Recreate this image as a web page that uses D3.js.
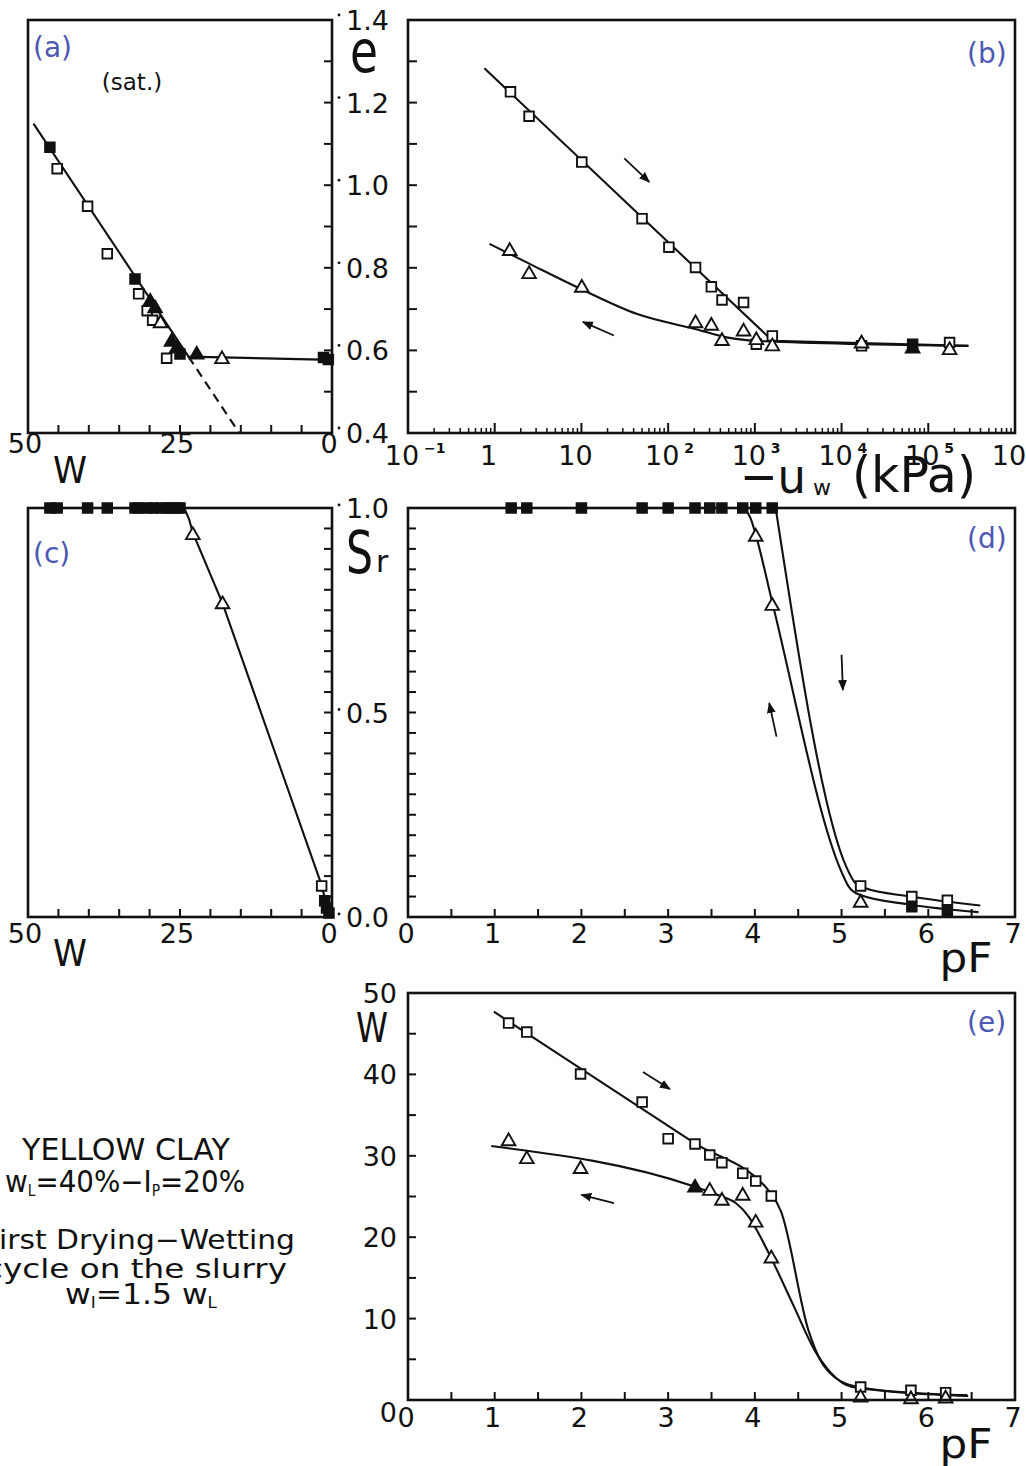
<!DOCTYPE html>
<html><head><meta charset="utf-8">
<script src="https://cdn.jsdelivr.net/npm/d3@7"></script>
<style>body{margin:0;background:#fff}svg{display:block}text{font-family:"DejaVu Sans",sans-serif;fill:#111}</style>
</head><body><svg id="c" width="1026" height="1466"></svg>
<script>
// ---------- DATA ----------
// (a) void ratio e vs water content w
const aSqOpen   = [[45.2,1.04],[40.2,0.949],[36.96,0.834],[31.8,0.737],[30.4,0.696],[29.5,0.673],[27.2,0.581]];
const aSqFilled = [[46.4,1.092],[32.4,0.773],[25.0,0.591],[1.4,0.583],[0.6,0.578]];
const aTriFilled= [[29.9,0.72],[29.1,0.704],[26.4,0.623],[25.55,0.607],[22.25,0.592]];
const aTriOpen  = [[28.2,0.668],[18.1,0.581]];
const aLine     = [[49.1,1.149],[23.6,0.585],[0,0.577]];
const aDash     = [[23.6,0.585],[15.25,0.4]];
// (b) e vs -uw (kPa)
const bSqOpen   = [[1.52,1.226],[2.49,1.167],[10.1,1.056],[50,0.919],[102,0.850],[207,0.801],[315,0.754],[418,0.722],[741,0.716],[1040,0.615],[1590,0.635],[17000,0.611],[176000,0.619]];
const bSqFilled = [[66000,0.615]];
const bTriOpen  = [[1.49,0.843],[2.49,0.787],[10.1,0.754],[207,0.668],[315,0.662],[418,0.625],[741,0.648],[1040,0.627],[1590,0.612],[17000,0.619],[176000,0.603]];
const bTriFilled= [[66000,0.607]];
const bDry      = [[0.76,1.283],[1600,0.623],[290000,0.611]];
const bWet      = [[0.87,0.858],[2.5,0.81],[10,0.748],[44,0.688],[204,0.652],[490,0.631],[1260,0.622],[290000,0.611]];
const bArrows   = [[[31.2,1.065],[60.5,1.008]],[[23.7,0.636],[10.4,0.669]]];
const bTickExp  = [-1,0,1,2,3,4,5,6];
// (c) Sr vs w
const cSqFilled = [[46.4,1],[45.2,1],[40.2,1],[36.96,1],[32.4,1],[31.8,1],[30.4,1],[29.5,1],[28.2,1],[27.2,1],[26.4,1],[25.5,1],[25.0,1],[1.2,0.04],[0.9,0.022],[0.5,0.01]];
const cTriOpen  = [[22.9,0.936],[18.0,0.767]];
const cSqOpen   = [[1.7,0.076]];
const cLine     = [[24.7,1.0],[24.1,0.993],[23.5,0.972],[22.9,0.94],[18,0.767],[2.0,0.09],[0.5,0.012]];
// (d) Sr vs pF
const dSqTop    = [1.19,1.37,2.0,2.7,3.0,3.31,3.48,3.62,3.86,4.01,4.2];
const dSqOpen   = [[5.22,0.076],[5.81,0.05],[6.22,0.041]];
const dSqFilled = [[5.81,0.025],[6.22,0.015]];
const dTriOpen  = [[4.01,0.932],[4.2,0.763],[5.22,0.037]];
const dDry      = [[4.24,1.0],[5.06,0.12],[5.14,0.088],[5.25,0.072],[5.8,0.05],[6.6,0.028]];
const dWet      = [[3.88,1.0],[3.95,0.975],[4.01,0.935],[4.2,0.77],[5.0,0.11],[5.08,0.075],[5.2,0.055],[5.8,0.03],[6.58,0.012]];
const dArrows   = [[[5.0,0.641],[5.015,0.555]],[[4.25,0.441],[4.166,0.523]]];
// (e) w vs pF
const eSqOpen   = [[1.16,46.3],[1.37,45.2],[1.99,40.05],[2.70,36.6],[3.0,32.1],[3.31,31.45],[3.48,30.1],[3.62,29.15],[3.86,27.85],[4.01,26.9],[4.19,25.06],[5.22,1.6],[5.8,1.2],[6.2,0.9]];
const eTriOpen  = [[1.16,31.9],[1.37,29.7],[1.99,28.5],[3.48,25.8],[3.62,24.6],[3.86,25.2],[4.01,21.9],[4.19,17.5],[5.22,0.4],[5.8,0.2],[6.2,0.3]];
const eTriFilled= [[3.31,26.2]];
const eDry      = [[0.99,47.7],[3.3,31.6],[4.19,25.3],[4.3,23.2],[4.62,8.5],[4.75,5.0],[4.92,2.8],[5.2,1.6],[5.8,0.9],[6.45,0.6]];
const eWet      = [[0.96,31.2],[3.31,26.2],[3.62,25.0],[3.78,24.2],[3.93,22.5],[4.01,21.1],[4.19,17.4],[4.45,11.5],[4.69,6.1],[4.88,3.3],[5.12,1.6],[6.46,0.5]];
const eArrows   = [[[2.71,40.3],[3.02,38.2]],[[2.376,24.2],[2.0,25.2]]];
// tick labels
const wLabels   = [50,25,0];
const eLabels   = [1.4,1.2,1.0,0.8,0.6,0.4];
const srLabels  = [1.0,0.5,0.0];
const pfLabels  = [0,1,2,3,4,5,6,7];
const wLeftLabels = [50,40,30,20,10,0];

// ---------- LAYOUT ----------
const svg = d3.select("#c");
const blue = "#4d58b3";
const L = {ax:28, ar:332, bx:408, br:1015, t1:20, b1:433, t2:508, b2:917, t3:993, b3:1400};

const xa = d3.scaleLinear([50,0],[L.ax,L.ar]);
const ye = d3.scaleLinear([0.4,1.4],[L.b1,L.t1]);
const xb = d3.scaleLog([0.1,1e6],[L.bx,L.br]);
const ysr = d3.scaleLinear([0,1],[L.b2,L.t2]);
const xpf = d3.scaleLinear([0,7],[L.bx,L.br]);
const yw = d3.scaleLinear([0,50],[L.b3,L.t3]);

svg.append("defs").append("marker").attr("id","ah").attr("viewBox","0 -5 10 10")
  .attr("refX",9).attr("refY",0).attr("markerWidth",11).attr("markerHeight",11)
  .attr("markerUnits","userSpaceOnUse").attr("orient","auto")
  .append("path").attr("d","M0,-4L10,0L0,4Z").attr("fill","#111");

function frame(x0,y0,x1,y1){
  svg.append("rect").attr("x",x0).attr("y",y0).attr("width",x1-x0).attr("height",y1-y0)
    .attr("fill","none").attr("stroke","#111").attr("stroke-width",2.6);
}
function vticks(vals, sx, y0, len, w){
  svg.append("g").selectAll("line").data(vals).join("line")
    .attr("x1",d=>sx(d)).attr("x2",d=>sx(d)).attr("y1",y0).attr("y2",y0-len)
    .attr("stroke","#111").attr("stroke-width",w||2);
}
function hticks(vals, sy, x0, len, w){
  svg.append("g").selectAll("line").data(vals).join("line")
    .attr("y1",d=>sy(d)).attr("y2",d=>sy(d)).attr("x1",x0).attr("x2",x0+len)
    .attr("stroke","#111").attr("stroke-width",w||2);
}
function txt(x,y,s,size,anchor,extra){
  const t = svg.append("text").attr("x",x).attr("y",y).attr("font-size",size)
    .attr("text-anchor",anchor||"start").text(s);
  if(extra) extra(t);
  return t;
}
function curve(data,sx,sy,dash,interp){
  svg.append("path").datum(data)
    .attr("d",d3.line().x(d=>sx(d[0])).y(d=>sy(d[1])).curve(interp||d3.curveMonotoneX))
    .attr("fill","none").attr("stroke","#111").attr("stroke-width",2.1)
    .attr("stroke-dasharray",dash?"9,6":null);
}
function pts(data,sx,sy,type,filled){
  const sym = d3.symbol().type(type==="sq"?d3.symbolSquare:d3.symbolTriangle).size(type==="sq"?92:80);
  svg.append("g").selectAll("path").data(data).join("path")
    .attr("transform",d=>`translate(${sx(d[0])},${sy(d[1])+(type==="tri"?1:0)})`)
    .attr("d",sym).attr("fill",filled?"#111":"#fff").attr("stroke","#111").attr("stroke-width",1.9);
}
function arrows(list,sx,sy){
  svg.append("g").selectAll("line").data(list).join("line")
    .attr("x1",d=>sx(d[0][0])).attr("y1",d=>sy(d[0][1]))
    .attr("x2",d=>sx(d[1][0])).attr("y2",d=>sy(d[1][1]))
    .attr("stroke","#111").attr("stroke-width",1.8).attr("marker-end","url(#ah)");
}
const FS = 27;

// ---------- PANEL (a) ----------
vticks(d3.range(5,50,5), xa, L.b1, 8);
hticks(d3.range(0.5,1.35,0.1), ye, L.ar, -8);
curve(aLine, xa, ye, false, d3.curveLinear);
curve(aDash, xa, ye, true, d3.curveLinear);
pts(aSqOpen, xa, ye, "sq", false);
pts(aSqFilled, xa, ye, "sq", true);
pts(aTriOpen, xa, ye, "tri", false);
pts(aTriFilled, xa, ye, "tri", true);
frame(L.ax,L.t1,L.ar,L.b1);
svg.append("g").selectAll("text").data(wLabels).join("text")
  .attr("x",d=>xa(d)-3).attr("y",453).attr("text-anchor","middle").attr("font-size",FS).text(d=>d);
svg.append("g").selectAll("text").data(eLabels).join("text")
  .attr("x",346).attr("y",d=>ye(d)+10).attr("font-size",FS).text(d=>d.toFixed(1));
svg.append("g").selectAll("circle").data(eLabels).join("circle")
  .attr("cx",339).attr("cy",d=>ye(d)-5).attr("r",1.4).attr("fill","#111");
txt(70,483,"W",38,"middle",t=>t.attr("textLength",34).attr("lengthAdjust","spacingAndGlyphs"));
txt(350,72,"e",58,"start",t=>t.attr("textLength",28).attr("lengthAdjust","spacingAndGlyphs"));
txt(132,90,"(sat.)",23,"middle");
txt(33,57,"(a)",28,"start").style("fill",blue);

// ---------- PANEL (b) ----------
hticks(d3.range(0.5,1.35,0.1), ye, L.bx, 9);
const minor = [];
for(let k=-1;k<6;k++) for(let m=2;m<10;m++) minor.push(m*Math.pow(10,k));
vticks(minor, xb, L.b1, 5, 1.5);
vticks(bTickExp.map(e=>Math.pow(10,e)), xb, L.b1, 10, 2);
curve(bDry, xb, ye, false, d3.curveLinear);
curve(bWet, xb, ye, false, d3.curveMonotoneX);
pts(bSqOpen, xb, ye, "sq", false);
pts(bSqFilled, xb, ye, "sq", true);
pts(bTriOpen, xb, ye, "tri", false);
pts(bTriFilled, xb, ye, "tri", true);
arrows(bArrows, xb, ye);
frame(L.bx,L.t1,L.br,L.b1);
bTickExp.forEach(e=>{
  const x = xb(Math.pow(10,e));
  txt(x-6,465, e===0?"1":"10", FS, "middle");
  if(e!==0 && e!==1 && e!==6) txt(x+16,453, e<0?"−"+(-e):String(e), 14, "start").attr("font-weight","bold");
});
txt(740,493,"−u",48,"start",t=>t.attr("textLength",66).attr("lengthAdjust","spacingAndGlyphs"));
txt(813,495,"w",22,"start");
txt(852,492,"(kPa)",50,"start",t=>t.attr("textLength",124).attr("lengthAdjust","spacingAndGlyphs"));
txt(967,63,"(b)",28,"start").style("fill",blue);

// ---------- PANEL (c) ----------
vticks(d3.range(5,50,5), xa, L.b2, 8);
hticks(d3.range(0.05,0.99,0.05), ysr, L.ar, -8);
curve(cLine, xa, ysr, false, d3.curveLinear);
pts(cSqFilled, xa, ysr, "sq", true);
pts(cSqOpen, xa, ysr, "sq", false);
pts(cTriOpen, xa, ysr, "tri", false);
frame(L.ax,L.t2,L.ar,L.b2);
svg.append("g").selectAll("text").data(wLabels).join("text")
  .attr("x",d=>xa(d)-3).attr("y",943).attr("text-anchor","middle").attr("font-size",FS).text(d=>d);
svg.append("g").selectAll("text").data(srLabels).join("text")
  .attr("x",346).attr("y",d=>ysr(d)+10).attr("font-size",FS).text(d=>d.toFixed(1));
svg.append("g").selectAll("circle").data(srLabels).join("circle")
  .attr("cx",339).attr("cy",d=>ysr(d)-3).attr("r",1.4).attr("fill","#111");
txt(70,966,"W",38,"middle",t=>t.attr("textLength",34).attr("lengthAdjust","spacingAndGlyphs"));
txt(346,573,"S",58,"start",t=>t.attr("textLength",27).attr("lengthAdjust","spacingAndGlyphs"));
txt(376,572,"r",30,"start");
txt(33,563,"(c)",28,"start").style("fill",blue);

// ---------- PANEL (d) ----------
hticks(d3.range(0.05,0.99,0.05), ysr, L.bx, 8);
vticks(d3.range(0.5,7,0.5), xpf, L.b2, 8);
curve(dDry, xpf, ysr);
curve(dWet, xpf, ysr);
pts(dSqTop.map(p=>[p,1]), xpf, ysr, "sq", true);
pts(dSqOpen, xpf, ysr, "sq", false);
pts(dSqFilled, xpf, ysr, "sq", true);
pts(dTriOpen, xpf, ysr, "tri", false);
arrows(dArrows, xpf, ysr);
frame(L.bx,L.t2,L.br,L.b2);
svg.append("g").selectAll("text").data(pfLabels).join("text")
  .attr("x",d=>xpf(d)-2).attr("y",943).attr("text-anchor","middle").attr("font-size",FS).text(d=>d);
txt(966,972,"pF",40,"middle",t=>t.attr("textLength",53).attr("lengthAdjust","spacingAndGlyphs"));
txt(967,548,"(d)",28,"start").style("fill",blue);

// ---------- PANEL (e) ----------
hticks(d3.range(5,50,5), yw, L.bx, 8);
vticks(d3.range(0.5,7,0.5), xpf, L.b3, 8);
curve(eDry, xpf, yw);
curve(eWet, xpf, yw);
pts(eSqOpen, xpf, yw, "sq", false);
pts(eTriOpen, xpf, yw, "tri", false);
pts(eTriFilled, xpf, yw, "tri", true);
arrows(eArrows, xpf, yw);
frame(L.bx,L.t3,L.br,L.b3);
svg.append("g").selectAll("text").data(pfLabels).join("text")
  .attr("x",d=>xpf(d)-2).attr("y",1427).attr("text-anchor","middle").attr("font-size",FS).text(d=>d);
svg.append("g").selectAll("text").data(wLeftLabels).join("text")
  .attr("x",397).attr("y",d=>yw(d)+10+(d===0?12:0)).attr("text-anchor","end").attr("font-size",FS).text(d=>d);
txt(372,1042,"W",40,"middle",t=>t.attr("textLength",32).attr("lengthAdjust","spacingAndGlyphs"));
txt(966,1458,"pF",40,"middle",t=>t.attr("textLength",53).attr("lengthAdjust","spacingAndGlyphs"));
txt(967,1032,"(e)",28,"start").style("fill",blue);

// ---------- TEXT BLOCK ----------
txt(22,1160,"YELLOW  CLAY",30,"start",t=>t.attr("textLength",208).attr("lengthAdjust","spacingAndGlyphs"));
{
  const t = svg.append("text").attr("x",5).attr("y",1192).attr("font-size",30)
    .attr("textLength",240).attr("lengthAdjust","spacingAndGlyphs");
  t.append("tspan").text("w");
  t.append("tspan").attr("font-size",15).attr("dy",4).text("L");
  t.append("tspan").attr("dy",-4).text("=40%−I");
  t.append("tspan").attr("font-size",15).attr("dy",4).text("P");
  t.append("tspan").attr("dy",-4).text("=20%");
}
txt(-16,1249,"First  Drying−Wetting",27,"start",t=>t.attr("textLength",311).attr("lengthAdjust","spacingAndGlyphs"));
txt(-15,1278,"cycle  on  the  slurry",27,"start",t=>t.attr("textLength",302).attr("lengthAdjust","spacingAndGlyphs"));
{
  const t = svg.append("text").attr("x",65).attr("y",1304).attr("font-size",28)
    .attr("textLength",152).attr("lengthAdjust","spacingAndGlyphs");
  t.append("tspan").text("w");
  t.append("tspan").attr("font-size",15).attr("dy",4).text("I");
  t.append("tspan").attr("dy",-4).text("=1.5  w");
  t.append("tspan").attr("font-size",15).attr("dy",4).text("L");
}
</script></body></html>
